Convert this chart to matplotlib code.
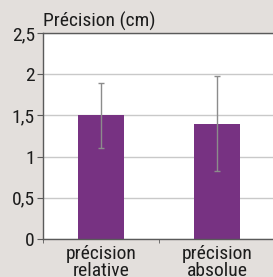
#!/usr/bin/env python3
"""Bar chart: précision relative vs absolue (cm) with error bars."""
import matplotlib
matplotlib.use("Agg")
import matplotlib.pyplot as plt

CATEGORIES = ["précision\nrelative", "précision\nabsolue"]
VALUES = [1.5, 1.4]
ERRORS = [0.39, 0.58]
Y_TICKS = [0, 0.5, 1, 1.5, 2, 2.5]
Y_LABELS = ["0", "0,5", "1", "1,5", "2", "2,5"]
TITLE = "Précision (cm)"

BG = "#e3dfdc"
BAR = "#773282"
GRID = "#c9c9c9"
SPINE = "#5a5a5a"
TEXT = "#1c1c1c"
FS = 14

plt.rcParams["font.family"] = ["Roboto Condensed", "DejaVu Sans"]


def main():
    fig = plt.figure(figsize=(2.73, 2.77), dpi=100, facecolor=BG)
    ax = fig.add_axes([0.158, 0.137, 0.85, 0.744])
    ax.set_facecolor("white")

    xs = list(range(len(VALUES)))
    ax.set_axisbelow(True)
    ax.bar(xs, VALUES, width=0.4, color=BAR, zorder=2)
    ax.errorbar(xs, VALUES, yerr=ERRORS, fmt="none", ecolor="#8c8c8c",
                elinewidth=1, capsize=2, capthick=1, zorder=3)

    ax.set_xlim(-0.5, 1.5)
    ax.set_ylim(0, 2.5)
    ax.set_yticks(Y_TICKS)
    ax.set_yticklabels(Y_LABELS, fontsize=FS, color=TEXT)
    ax.yaxis.grid(True, color=GRID, lw=1)
    ax.tick_params(axis="y", length=4, color=SPINE, pad=2)

    ax.set_xticks(xs)
    ax.set_xticklabels(CATEGORIES, fontsize=FS, color=TEXT, linespacing=0.95)
    ax.tick_params(axis="x", which="major", length=0, pad=4)
    ax.set_xticks([-0.5, 0.5], minor=True)
    ax.tick_params(axis="x", which="minor", length=3, color=SPINE)

    for side in ("left", "bottom", "top"):
        ax.spines[side].set_color(SPINE)
        ax.spines[side].set_linewidth(1)
    ax.spines["right"].set_visible(False)

    ax.text(0.0, 1.01, TITLE, transform=ax.transAxes, fontsize=FS,
            color=TEXT, ha="left", va="bottom")

    fig.savefig("out.png", dpi=100, facecolor=BG)
    plt.close(fig)


if __name__ == "__main__":
    main()
